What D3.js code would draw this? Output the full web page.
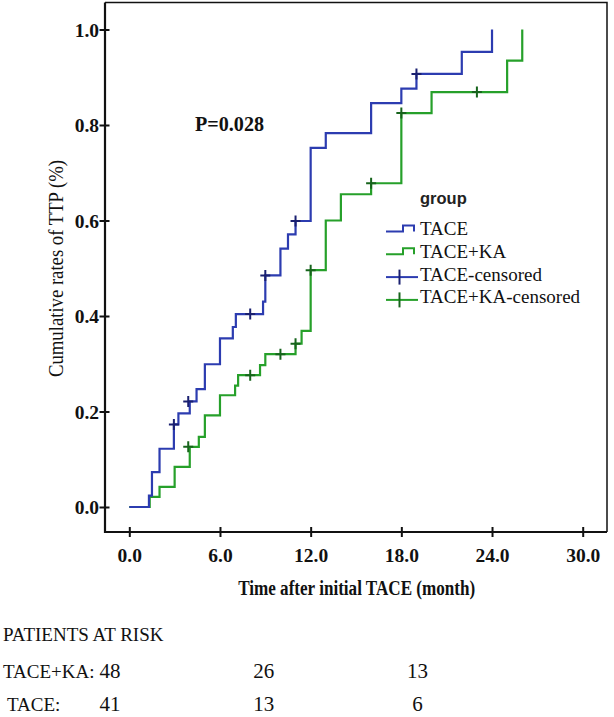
<!DOCTYPE html>
<html>
<head>
<meta charset="utf-8">
<script src="https://d3js.org/d3.v7.min.js"></script>
<style>
  html, body { margin: 0; padding: 0; background: #fff; }
  svg { display: block; }
</style>
</head>
<body>
<script>
// ---- data ----
const xTicks = [0, 6, 12, 18, 24, 30];
const yTicks = [0, 0.2, 0.4, 0.6, 0.8, 1.0];

const taceTime = [0, 1.3, 1.5, 2.0, 2.95, 3.25, 4.0, 4.45, 5.0, 6.0, 6.85, 7.05, 8.85, 9.0, 10.0, 10.5, 11.0, 12.0, 13.0, 16.0, 18.0, 19.0, 22.0, 24.0];
const taceRate = [0, 0.024, 0.073, 0.122, 0.173, 0.196, 0.221, 0.247, 0.299, 0.353, 0.377, 0.404, 0.430, 0.485, 0.541, 0.571, 0.599, 0.752, 0.783, 0.846, 0.876, 0.907, 0.953, 1.0];
const taceCensTime = [2.95, 3.9, 8.0, 9.0, 11.0, 19.0];
const taceCensRate = [0.173, 0.221, 0.404, 0.485, 0.599, 0.907];

const kaTime = [0, 1.35, 2.0, 3.0, 4.0, 4.6, 5.0, 6.0, 7.0, 7.2, 8.65, 9.0, 11.0, 11.4, 12.0, 13.0, 14.0, 16.0, 18.0, 20.0, 25.0, 26.0];
const kaRate = [0, 0.021, 0.042, 0.084, 0.126, 0.147, 0.192, 0.234, 0.254, 0.276, 0.297, 0.320, 0.342, 0.369, 0.496, 0.600, 0.655, 0.678, 0.825, 0.869, 0.935, 1.0];
const kaCensTime = [3.9, 8.0, 10.0, 11.0, 12.0, 16.0, 18.0, 23.0];
const kaCensRate = [0.126, 0.276, 0.320, 0.342, 0.496, 0.678, 0.825, 0.869];

const legendLabels = ["TACE", "TACE+KA", "TACE-censored", "TACE+KA-censored"];
const pValueText = "P=0.028";

const riskTitle = "PATIENTS AT RISK";
const riskGroups = ["TACE+KA:", "TACE:"];
const riskTimes = [0, 12, 24];
const riskCounts = [[48, 26, 13], [41, 13, 6]];

// ---- drawing ----
const W = 614, H = 717;
const blue = "#2c3cb0", green = "#26a02a";
const blueDark = "#1a2070", greenDark = "#17641c";
const serif = "'Liberation Serif', 'Times New Roman', serif";
const sans = "'Liberation Sans', Arial, sans-serif";

const svg = d3.select("body").append("svg").attr("width", W).attr("height", H);
svg.append("rect").attr("width", W).attr("height", H).attr("fill", "#fff");

const frame = { left: 105, right: 607, top: 2.5, bottom: 532 };
const x = d3.scaleLinear().domain([0, 30]).range([129.3, 582.7]);
const y = d3.scaleLinear().domain([0, 1]).range([507, 29.5]);

// frame top/right (thin)
svg.append("path")
  .attr("d", `M${frame.left},${frame.top} H${frame.right} V${frame.bottom}`)
  .attr("fill", "none").attr("stroke", "#111").attr("stroke-width", 1.5);

// axes
const xAxis = d3.axisBottom(x).tickValues(xTicks).tickFormat(d3.format(".1f")).tickSizeInner(5).tickSizeOuter(0);
const gx = svg.append("g").attr("transform", `translate(0,${frame.bottom})`).call(xAxis);
gx.select(".domain").remove();
gx.selectAll(".tick line").attr("y1", -5).attr("y2", 5).attr("stroke", "#111").attr("stroke-width", 2);
gx.selectAll(".tick text").attr("y", 29.5).attr("dy", null)
  .attr("font-family", serif).attr("font-weight", "bold").attr("font-size", 19.5).attr("fill", "#111");

const yAxis = d3.axisLeft(y).tickValues(yTicks).tickFormat(d3.format(".1f")).tickSizeInner(5).tickSizeOuter(0);
const gy = svg.append("g").attr("transform", `translate(${frame.left},0)`).call(yAxis);
gy.select(".domain").remove();
gy.selectAll(".tick line").attr("x1", -5.5).attr("x2", 4.5).attr("stroke", "#111").attr("stroke-width", 2);
gy.selectAll(".tick text").attr("x", -6).attr("dy", "0.34em")
  .attr("font-family", serif).attr("font-weight", "bold").attr("font-size", 19.5).attr("fill", "#111");

// axis lines (thick)
svg.append("path")
  .attr("d", `M${frame.left},${frame.top} V${frame.bottom} H${frame.right}`)
  .attr("fill", "none").attr("stroke", "#111").attr("stroke-width", 2.2);

// axis titles
svg.append("text").attr("x", 356.7).attr("y", 595).attr("text-anchor", "middle")
  .attr("font-family", serif).attr("font-weight", "bold").attr("font-size", 20)
  .attr("textLength", 237).attr("lengthAdjust", "spacingAndGlyphs").attr("fill", "#111")
  .text("Time after initial TACE (month)");
svg.append("text").attr("transform", "translate(63,268.5) rotate(-90)").attr("text-anchor", "middle")
  .attr("font-family", serif).attr("font-size", 21)
  .attr("textLength", 217).attr("lengthAdjust", "spacingAndGlyphs").attr("fill", "#111")
  .text("Cumulative rates of TTP (%)");

// curves
const line = d3.line().x(d => x(d[0])).y(d => y(d[1])).curve(d3.curveStepAfter);
const series = [
  { t: taceTime, r: taceRate, ct: taceCensTime, cr: taceCensRate, color: blue, dark: blueDark },
  { t: kaTime, r: kaRate, ct: kaCensTime, cr: kaCensRate, color: green, dark: greenDark }
];
[series[1], series[0]].forEach(s => {
  const pts = s.t.map((t, i) => [t, s.r[i]]);
  svg.append("path").attr("d", line(pts)).attr("fill", "none")
    .attr("stroke", s.color).attr("stroke-width", 2.2).attr("stroke-linejoin", "miter");
});
series.forEach(s => {
  const cens = s.ct.map((t, i) => [t, s.cr[i]]);
  const g = svg.append("g");
  g.selectAll("path").data(cens).join("path")
    .attr("d", d => `M${x(d[0]) - 5},${y(d[1])} H${x(d[0]) + 5} M${x(d[0])},${y(d[1]) - 5.5} V${y(d[1]) + 5.5}`)
    .attr("stroke", s.dark).attr("stroke-width", 2).attr("fill", "none");
});

// P value
svg.append("text").attr("x", 195).attr("y", 130.7)
  .attr("font-family", serif).attr("font-weight", "bold").attr("font-size", 20)
  .attr("textLength", 69).attr("lengthAdjust", "spacingAndGlyphs").attr("fill", "#111")
  .text(pValueText);

// legend
const lg = svg.append("g");
lg.append("text").attr("x", 420).attr("y", 203.5)
  .attr("font-family", sans).attr("font-weight", "bold").attr("font-size", 16.5).attr("fill", "#222")
  .text("group");
const legendColors = [blue, green, blue, green];
const legendDark = [blue, green, blueDark, greenDark];
legendLabels.forEach((lab, i) => {
  const by = 235 + i * 22.8;
  const sy = by - 3.5;
  if (i < 2) {
    lg.append("path").attr("d", `M386,${sy} H403 V${sy - 6} H414 V${sy}`)
      .attr("fill", "none").attr("stroke", legendColors[i]).attr("stroke-width", 2);
  } else {
    lg.append("path").attr("d", `M386,${sy} H418`)
      .attr("fill", "none").attr("stroke", legendColors[i]).attr("stroke-width", 2);
    lg.append("path").attr("d", `M399.5,${sy - 7.5} V${sy + 7.5}`)
      .attr("fill", "none").attr("stroke", legendDark[i]).attr("stroke-width", 2);
  }
  lg.append("text").attr("x", 420).attr("y", by)
    .attr("font-family", serif).attr("font-size", 19).attr("fill", "#111").text(lab);
});

// risk table
const rx = d3.scaleLinear().domain([0, 24]).range([110, 417.5]);
svg.append("text").attr("x", 3).attr("y", 641)
  .attr("font-family", serif).attr("font-size", 19).attr("fill", "#111").text(riskTitle);
const rowY = [677.5, 711];
const rowX = [3, 7];
riskGroups.forEach((gname, i) => {
  svg.append("text").attr("x", rowX[i]).attr("y", rowY[i])
    .attr("font-family", serif).attr("font-size", 19).attr("fill", "#111").text(gname);
  riskCounts[i].forEach((c, j) => {
    svg.append("text").attr("x", rx(riskTimes[j])).attr("y", rowY[i]).attr("text-anchor", "middle")
      .attr("font-family", serif).attr("font-size", 21).attr("fill", "#111").text(c);
  });
});
</script>
</body>
</html>
